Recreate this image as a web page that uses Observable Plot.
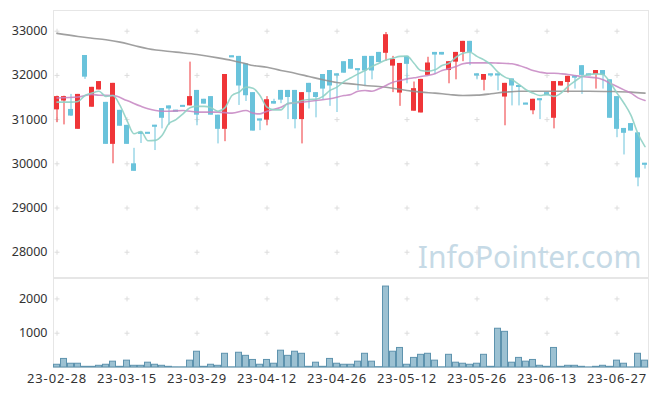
<!DOCTYPE html>
<html><head><meta charset="utf-8">
<script src="https://cdn.jsdelivr.net/npm/d3@7"></script>
<script src="https://cdn.jsdelivr.net/npm/@observablehq/plot@0.6"></script>
<style>
body{margin:0;background:#fff;font-family:"Noto Sans",sans-serif;}
#chart svg{display:block;}
.xax text{letter-spacing:0.9px;}
</style></head><body><div id="chart"></div>
<script>
const dates = ["23-02-28","23-03-02","23-03-03","23-03-06","23-03-07","23-03-08","23-03-09","23-03-10","23-03-13","23-03-14",
"23-03-15","23-03-16","23-03-17","23-03-20","23-03-21","23-03-22","23-03-23","23-03-24","23-03-27","23-03-28",
"23-03-29","23-03-30","23-03-31","23-04-03","23-04-04","23-04-05","23-04-06","23-04-07","23-04-10","23-04-11",
"23-04-12","23-04-13","23-04-14","23-04-17","23-04-18","23-04-19","23-04-20","23-04-21","23-04-24","23-04-25",
"23-04-26","23-04-27","23-04-28","23-05-02","23-05-03","23-05-04","23-05-08","23-05-09","23-05-10","23-05-11",
"23-05-12","23-05-15","23-05-16","23-05-17","23-05-18","23-05-19","23-05-22","23-05-23","23-05-24","23-05-25",
"23-05-26","23-05-30","23-05-31","23-06-01","23-06-02","23-06-05","23-06-07","23-06-08","23-06-09","23-06-12",
"23-06-13","23-06-14","23-06-15","23-06-16","23-06-19","23-06-20","23-06-21","23-06-22","23-06-23","23-06-26",
"23-06-27","23-06-28","23-06-29","23-06-30","23-07-03"];

const open = [31220,31420,31230,30780,32450,31280,31670,31390,30440,31210,
30870,30000,30710,30710,30870,31250,31310,31210,31320,31310,
31660,31460,31520,31100,30780,32440,32430,32260,31610,31010,
30990,31410,31660,31660,31660,31000,31820,31610,32020,32110,
32030,32310,32360,32150,32430,32430,32520,32500,32210,31600,
32430,31190,31150,32000,32520,32520,32110,32300,32520,32770,
32030,31890,32030,32030,31510,31920,31770,31370,31200,31470,
31610,31030,31760,31840,31980,32220,32030,32020,32110,31900,
31520,30800,30910,30700,30010];
const high = [31530,31530,31570,31570,32450,31730,31860,31390,31820,31210,
30870,30350,30720,30710,30870,31250,31310,31210,31320,32300,
31660,31460,31520,31100,32020,32440,32430,32260,31610,31010,
31520,31460,31660,31660,31660,31610,31820,31610,32020,32110,
32030,32310,32360,32150,32430,32430,32520,32970,32430,32270,
32430,31850,31910,32410,32520,32520,32310,32520,32770,32770,
32030,32020,32030,32030,31820,31920,31770,31370,31460,31470,
31610,31860,31860,31980,31980,32220,32030,32110,32110,31900,
31520,30800,30910,30700,30010];
const low = [30930,30880,31070,30780,31910,31280,31670,30440,30000,30850,
30440,29830,30460,30700,30300,30790,30870,31200,31310,31310,
30860,31350,31100,30450,30500,32430,31320,31410,30740,30750,
30860,31350,31360,31000,30790,30450,31240,31040,31450,31300,
31160,32050,32140,31660,31760,31900,32290,32320,31610,31300,
31810,31190,31150,32000,32020,32460,31810,31900,32310,32220,
31900,31650,31960,31650,30860,31310,31310,31360,31110,31000,
31540,30790,31760,31600,31690,31570,32020,31690,31690,31030,
30590,30200,30740,29480,29880];
const close = [31520,31520,31080,31570,31960,31730,31860,30440,31820,30850,
30440,29830,30700,30700,30860,31030,31240,31200,31310,31520,
31100,31350,31100,30780,32020,32430,31760,31540,30740,31000,
31450,31350,31440,31500,31000,31610,31610,31500,31690,31760,
32020,32050,32140,32140,32100,32100,32290,32920,32360,32270,
32250,31700,31910,32280,32460,32460,32310,32520,32770,32520,
32020,32020,32020,32020,31820,31760,31760,31360,31460,31460,
31540,31860,31860,31980,31970,32000,32020,32110,32000,31030,
30780,30690,30740,29680,30000];
const volume = [80,250,110,110,20,20,50,80,170,20,
200,50,50,140,80,50,20,5,5,200,
460,20,80,50,400,5,430,340,220,80,
220,110,490,340,460,400,20,140,20,250,
110,80,80,170,400,170,10,2360,460,570,
80,280,370,400,200,5,370,140,110,80,
110,370,20,1130,1040,140,280,170,220,50,
20,570,20,50,50,20,3,20,50,20,
200,110,3,400,200];

const ma5 = [31395,31395,31395,31410,31545,31600,31640,31525,31545,31320,
30980,30680,30730,30520,30530,30640,30910,31000,31130,31270,
31300,31300,31270,31190,31270,31545,31620,31735,31710,31545,
31280,31220,31220,31370,31380,31430,31455,31460,31525,31660,
31735,31860,31945,32035,32110,32200,32275,32350,32390,32430,
32435,32275,32110,32095,32125,32225,32275,32410,32500,32525,
32430,32350,32245,32075,31960,31900,31795,31675,31600,31545,
31570,31525,31600,31750,31870,31975,32020,32035,32020,31845,
31600,31370,31095,30680,30390];
const ma20Idx = [0,3,5,6,8,10,12,13,15,16,18,20,23,25,27,28,29,30,32,33,35,37,39,41,42,43,44,45,46,47,48,49,50,51,52,53,54,55,56,57,58,59,62,63,65,66,67,68,69,70,71,72,73,74,75,76,77,78,79,80,81,82,83,84];
const ma20Val = [31490,31510,31570,31550,31545,31430,31300,31245,31190,31190,31205,31170,31170,31146,31206,31146,31130,31190,31280,31357,31394,31432,31470,31545,31568,31643,31658,31643,31696,31772,31847,31885,31922,31945,31975,31998,32036,32111,32149,32201,32262,32284,32284,32277,32262,32224,32171,32111,32073,32050,32050,32036,32020,31998,31975,31960,31945,31900,31824,31749,31673,31598,31492,31432];
const ma120Idx = [0,3,5,7,9,11,13,17,20,23,25,27,28,30,32,34,36,38,40,42,44,46,48,50,52,54,56,58,60,62,64,66,70,76,79,82,84];
const ma120Val = [32950,32880,32842,32805,32752,32676,32601,32526,32473,32397,32337,32262,32224,32186,32111,32050,31975,31900,31839,31809,31772,31749,31711,31658,31621,31598,31568,31545,31553,31583,31621,31643,31643,31643,31636,31621,31598];

const priceTicks = [28000,29000,30000,31000,32000,33000];
const volumeTicks = [1000,2000];
const xTickLabels = ["23-02-28","23-03-15","23-03-29","23-04-12","23-04-26","23-05-12","23-05-26","23-06-13","23-06-27"];

const RED = "#ef3538", BLUE = "#6ac3db";
const candles = dates.map((d,i)=>({date:d,o:open[i],h:high[i],l:low[i],c:close[i],v:volume[i]}));
const col = d => d.c > d.o ? RED : BLUE;
const line20 = ma20Idx.map((k,j)=>({date:dates[k], v:ma20Val[j]}));
const line120 = ma120Idx.map((k,j)=>({date:dates[k], v:ma120Val[j]}));
const line5 = dates.map((d,i)=>({date:d, v:ma5[i]}));

const plusSym = {draw(ctx){const r=2.5;ctx.moveTo(-r,0);ctx.lineTo(r,0);ctx.moveTo(0,-r);ctx.lineTo(0,r);}};
const gridP = xTickLabels.flatMap(x=>priceTicks.map(y=>({x,y})));
const gridV = xTickLabels.flatMap(x=>volumeTicks.map(y=>({x,y})));

const xScale = {type:"band", domain:dates, padding:0, align:0.5};
const W = 657, ML = 53, MR = 9;
const axisStyle = {fontSize:"12.5px", fontFamily:"Noto Sans, sans-serif", color:"#333", overflow:"visible"};

const price = Plot.plot({
  width:W, height:278, marginLeft:ML, marginRight:MR, marginTop:10, marginBottom:1,
  style: axisStyle,
  x: {...xScale, axis:null},
  y: {domain:[27428,33468]},
  marks: [
    Plot.frame({stroke:"#e6e6e6"}),
    Plot.dot(gridP, {x:"x", y:"y", symbol:plusSym, stroke:"#dcdcdc", fill:"none", strokeWidth:1}),
    Plot.axisY({ticks:priceTicks, tickSize:0, tickPadding:6, tickFormat:d=>String(d), fill:"#333"}),
    Plot.text(["InfoPointer.com"], {frameAnchor:"bottom-right", textAnchor:"end", lineAnchor:"bottom", dx:-7, dy:-10, fontSize:30, fill:"#c6dae6", fontFamily:"Noto Sans, sans-serif"}),
    Plot.ruleX(candles, {x:"date", y1:"l", y2:"h", stroke:col, strokeWidth:1}),
    Plot.barY(candles, {x:"date", y1:"o", y2:"c", fill:col, insetLeft:1, insetRight:1}),
    Plot.tickY(candles.filter(d=>Math.abs(d.o-d.c)<40), {x:"date", y:"c", stroke:col, strokeWidth:2, insetLeft:1, insetRight:1}),
    Plot.lineY(line120, {x:"date", y:"v", stroke:"#8f8f8f", strokeWidth:1.6, strokeOpacity:0.85, curve:"monotone-x"}),
    Plot.lineY(line20, {x:"date", y:"v", stroke:"#c585c2", strokeWidth:1.6, strokeOpacity:0.85, curve:"monotone-x"}),
    Plot.lineY(line5, {x:"date", y:"v", stroke:"#8fd0c4", strokeWidth:1.6, strokeOpacity:0.9, curve:"monotone-x"})
  ]
});

const vol = Plot.plot({
  width:W, height:118, marginLeft:ML, marginRight:MR, marginTop:0, marginBottom:29,
  style: axisStyle,
  x: {...xScale},
  y: {domain:[0,2595]},
  marks: [
    Plot.frame({stroke:"#e6e6e6"}),
    Plot.dot(gridV, {x:"x", y:"y", symbol:plusSym, stroke:"#dcdcdc", fill:"none", strokeWidth:1}),
    Plot.axisY({ticks:volumeTicks, tickSize:0, tickPadding:6, tickFormat:d=>String(d), fill:"#333"}),
    Plot.axisX({ticks:xTickLabels, tickSize:0, tickPadding:6, fill:"#333", fontSize:13, className:"xax"}),
    Plot.barY(candles, {x:"date", y:"v", fill:"#9cc1d2", stroke:"#5e93ae", strokeWidth:1, insetLeft:0.5, insetRight:0.5})
  ]
});

document.getElementById("chart").append(price, vol);
</script></body></html>
